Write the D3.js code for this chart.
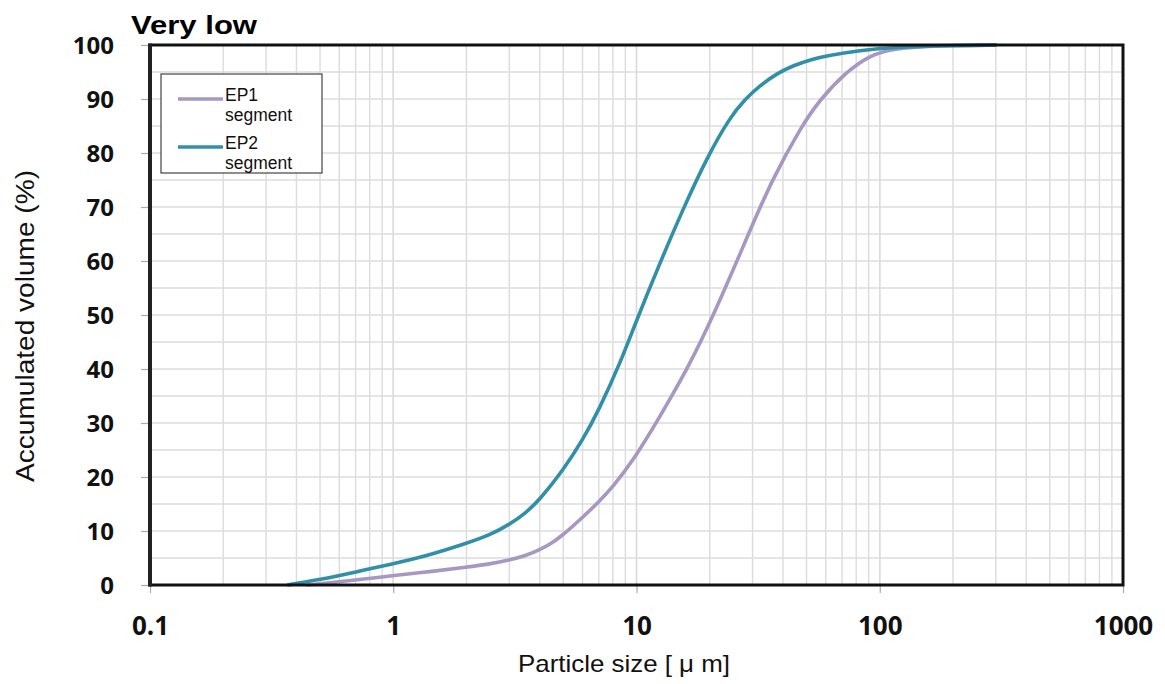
<!DOCTYPE html>
<html><head><meta charset="utf-8">
<script src="https://cdn.jsdelivr.net/npm/d3@7"></script>
<style>html,body{margin:0;padding:0;background:#fff;}</style>
</head><body>
<svg id="chart" width="1165" height="684"></svg>
<script>
const title = "Very low";
const xLabel = "Particle size [ \u03BC m]";
const yLabel = "Accumulated volume (%)";
const xTicks = [0.1, 1, 10, 100, 1000];
const xTickLabels = ["0.1", "1", "10", "100", "1000"];
const yTicks = [0, 10, 20, 30, 40, 50, 60, 70, 80, 90, 100];
const seriesNames = ["EP1\nsegment", "EP2\nsegment"];
const ep1Size = [0.44, 0.6, 0.8, 1, 1.5, 2, 2.5, 3, 3.5, 4, 4.5, 5, 6, 7, 8, 9.7, 12, 13.7, 16.08, 20.7, 28.8, 36, 47.7, 56.8, 73.1, 91.2, 114, 177, 300];
const ep1Vol  = [0, 0.6, 1.2, 1.75, 2.6, 3.3, 3.9, 4.6, 5.4, 6.5, 7.8, 9.3, 12.5, 15.4, 18.2, 23.1, 29.9, 34.4, 39.8, 49.8, 64.9, 75, 85, 89.9, 95.1, 98.1, 99.4, 99.9, 100];
const ep2Size = [0.366, 0.5, 0.7, 1, 1.33, 2, 2.5, 3, 3.5, 4, 5, 6, 7, 8.55, 10, 12.5, 15.6, 19.4, 24.2, 28, 32.2, 38, 44.2, 52, 60.5, 82.9, 113.7, 200, 303];
const ep2Vol  = [0, 1.0, 2.4, 3.95, 5.2, 7.7, 9.25, 11.2, 13.3, 15.8, 21.3, 26.8, 32.4, 41.0, 49.0, 59.7, 69.8, 79.0, 86.6, 90.0, 92.5, 94.8, 96.2, 97.3, 98.0, 99.0, 99.6, 99.9, 100];
const colors = ["#a797c3", "#3190a8"];

const svg = d3.select("#chart");
const L = 150, R = 1123, T = 45, B = 585;
const x = d3.scaleLog().domain([0.1, 1000]).range([L, R]);
const y = d3.scaleLinear().domain([0, 100]).range([B, T]);

// grid
const minor = [];
for (let d = 0.1; d < 1000; d *= 10) for (let k = 1; k <= 10; k++) minor.push(+(d * k).toPrecision(3));
const g = svg.append("g");
g.selectAll("line.v").data(minor).enter().append("line")
  .attr("x1", d => x(d)).attr("x2", d => x(d)).attr("y1", T).attr("y2", B)
  .attr("stroke", "#dcdcdc").attr("stroke-width", 1.4);
const hLines = d3.range(0, 101, 5);
g.selectAll("line.h").data(hLines).enter().append("line")
  .attr("x1", L).attr("x2", R).attr("y1", d => y(d)).attr("y2", d => y(d))
  .attr("stroke", "#dcdcdc").attr("stroke-width", 1.4);

// axes ticks
const yAxis = d3.axisLeft(y).tickValues(yTicks).tickSize(9).tickFormat(d3.format("d"));
const ya = svg.append("g").attr("transform", `translate(${L},0)`).call(yAxis);
ya.select(".domain").remove();
ya.selectAll(".tick line").attr("stroke", "#aaa").attr("stroke-width", 1.2);
ya.selectAll(".tick text").attr("x", -36).attr("dy", "0.36em")
  .attr("font-family", "'Open Sans', sans-serif").attr("font-weight", "bold")
  .attr("font-size", 24).attr("fill", "#111");

const xAxis = d3.axisBottom(x).tickValues(xTicks).tickSize(8).tickFormat((d, i) => xTickLabels[i]);
const xa = svg.append("g").attr("transform", `translate(0,${B})`).call(xAxis);
xa.select(".domain").remove();
xa.selectAll(".tick line").attr("stroke", "#aaa").attr("stroke-width", 1.2);
xa.selectAll(".tick text").attr("y", 50).attr("dy", 0)
  .attr("font-family", "'Open Sans', sans-serif").attr("font-weight", "bold")
  .attr("font-size", 26).attr("fill", "#111");

// lines
const line = d3.line().x(d => x(d[0])).y(d => y(d[1])).curve(d3.curveBasis);
const series = [d3.zip(ep1Size, ep1Vol), d3.zip(ep2Size, ep2Vol)];
svg.selectAll("path.s").data(series).enter().append("path")
  .attr("d", line).attr("fill", "none")
  .attr("stroke", (d, i) => colors[i]).attr("stroke-width", 3.6)
  .attr("stroke-linejoin", "round");

// border
svg.append("rect").attr("x", L).attr("y", T).attr("width", R - L).attr("height", B - T)
  .attr("fill", "none").attr("stroke", "#111").attr("stroke-width", 3);
svg.append("line").attr("x1", L).attr("x2", L).attr("y1", T - 1.5).attr("y2", B + 1.5)
  .attr("stroke", "#222").attr("stroke-width", 4);

// legend
const lg = svg.append("g");
lg.append("rect").attr("x", 161).attr("y", 74).attr("width", 161).attr("height", 99)
  .attr("fill", "#fff").attr("stroke", "#444").attr("stroke-width", 1.2);
seriesNames.forEach((name, i) => {
  const yy = 99 + i * 48;
  lg.append("line").attr("x1", 178).attr("x2", 223).attr("y1", yy).attr("y2", yy)
    .attr("stroke", colors[i]).attr("stroke-width", 3.6);
  const t = lg.append("text").attr("font-family", "'Liberation Sans', Arial, sans-serif")
    .attr("font-size", 17.5).attr("fill", "#111");
  name.split("\n").forEach((s, j) => {
    t.append("tspan").attr("x", 225).attr("y", yy + 1.5 + j * 20.5).text(s);
  });
});

// titles
svg.append("text").attr("x", 131).attr("y", 34).text(title)
  .attr("font-family", "'Liberation Sans', Arial, sans-serif").attr("font-weight", "bold")
  .attr("font-size", 26).attr("textLength", 126).attr("lengthAdjust", "spacingAndGlyphs").attr("fill", "#000");
svg.append("text").attr("x", 624).attr("y", 672).attr("text-anchor", "middle").text(xLabel)
  .attr("font-family", "'Liberation Sans', Arial, sans-serif")
  .attr("font-size", 24).attr("textLength", 212).attr("lengthAdjust", "spacingAndGlyphs").attr("fill", "#111");
svg.append("text").attr("transform", "translate(34,326) rotate(-90)").attr("text-anchor", "middle").text(yLabel)
  .attr("font-family", "'Liberation Sans', Arial, sans-serif")
  .attr("font-size", 25).attr("textLength", 312).attr("lengthAdjust", "spacingAndGlyphs").attr("fill", "#111");
</script>
</body></html>
